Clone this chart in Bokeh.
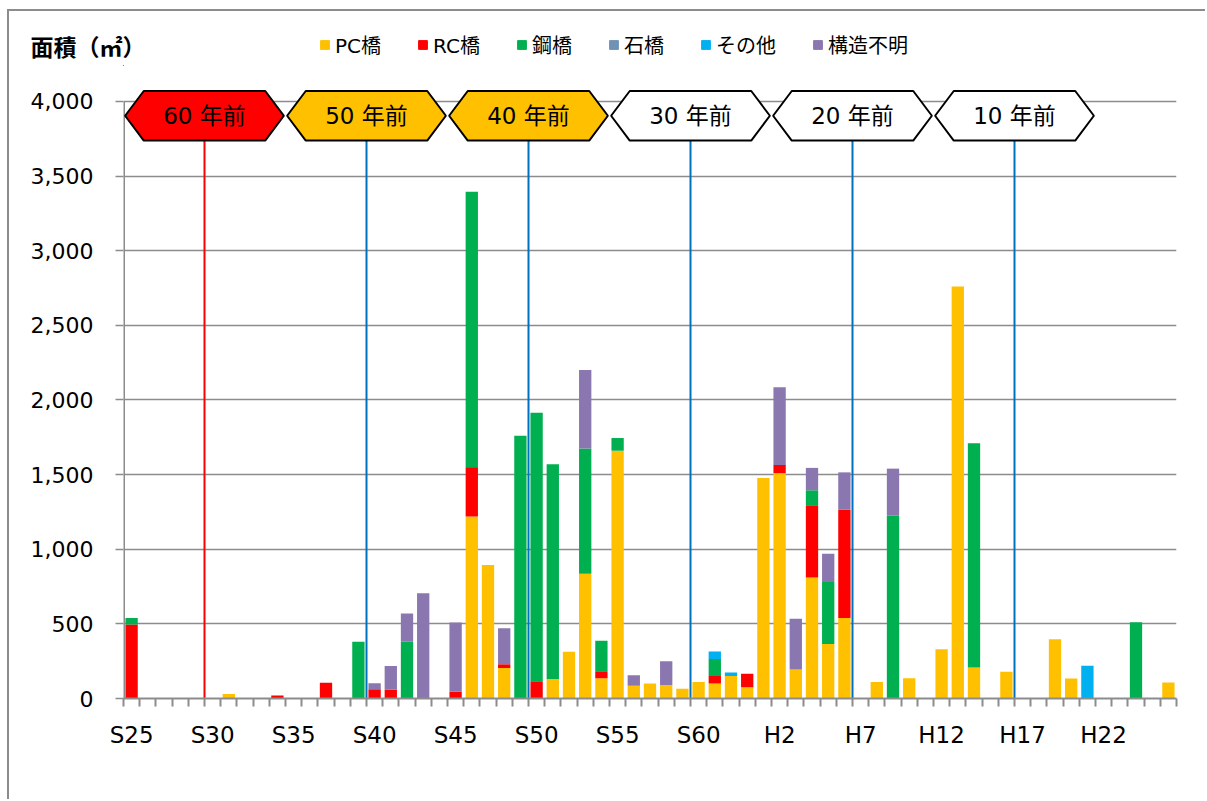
from bokeh.plotting import figure
from bokeh.layouts import column
from bokeh.models import (Range1d, FixedTicker, NumeralTickFormatter, Legend,
                          LegendItem, ColumnDataSource)
from bokeh.core.properties import value
from bokeh.embed import file_html
from bokeh.resources import INLINE

# ---------------- data ----------------
YEARS = ["S25", "S26", "S27", "S28", "S29", "S30", "S31", "S32", "S33", "S34",
         "S35", "S36", "S37", "S38", "S39", "S40", "S41", "S42", "S43", "S44",
         "S45", "S46", "S47", "S48", "S49", "S50", "S51", "S52", "S53", "S54",
         "S55", "S56", "S57", "S58", "S59", "S60", "S61", "S62", "S63", "H1",
         "H2", "H3", "H4", "H5", "H6", "H7", "H8", "H9", "H10", "H11",
         "H12", "H13", "H14", "H15", "H16", "H17", "H18", "H19", "H20", "H21",
         "H22", "H23", "H24", "H25", "H26"]

TICK_LABELS = ["S25", "S30", "S35", "S40", "S45", "S50", "S55", "S60",
               "H2", "H7", "H12", "H17", "H22"]

PC = [0, 0, 0, 0, 0, 0, 30, 0, 0, 0,
      0, 0, 0, 0, 0, 0, 0, 0, 0, 0,
      0, 1220, 895, 205, 0, 0, 130, 313, 835, 135,
      1660, 85, 100, 90, 65, 110, 100, 150, 75, 1478,
      1510, 195, 810, 365, 540, 0, 110, 0, 135, 0,
      330, 2760, 208, 0, 180, 0, 0, 397, 134, 0,
      0, 0, 0, 0, 107]
RC = [495, 0, 0, 0, 0, 0, 0, 0, 0, 20,
      0, 0, 105, 0, 0, 62, 58, 0, 0, 0,
      45, 330, 0, 25, 0, 115, 0, 0, 0, 47,
      0, 0, 0, 0, 0, 0, 50, 0, 90, 0,
      55, 0, 480, 0, 725, 0, 0, 0, 0, 0,
      0, 0, 0, 0, 0, 0, 0, 0, 0, 0,
      0, 0, 0, 0, 0]
STEEL = [45, 0, 0, 0, 0, 0, 0, 0, 0, 0,
         0, 0, 0, 0, 380, 0, 0, 380, 0, 0,
         0, 1845, 0, 0, 1760, 1800, 1440, 0, 840, 205,
         85, 0, 0, 0, 0, 0, 115, 0, 0, 0,
         0, 0, 105, 415, 0, 0, 0, 1225, 0, 0,
         0, 0, 1502, 0, 0, 0, 0, 0, 0, 0,
         0, 0, 511, 0, 0]
STONE = [0] * 65
OTHER = [0, 0, 0, 0, 0, 0, 0, 0, 0, 0,
         0, 0, 0, 0, 0, 0, 0, 0, 0, 0,
         0, 0, 0, 0, 0, 0, 0, 0, 0, 0,
         0, 0, 0, 0, 0, 0, 50, 25, 0, 0,
         0, 0, 0, 0, 0, 0, 0, 0, 0, 0,
         0, 0, 0, 0, 0, 0, 0, 0, 0, 220,
         0, 0, 0, 0, 0]
UNKNOWN = [0, 0, 0, 0, 0, 0, 0, 0, 0, 0,
           0, 0, 0, 0, 0, 40, 160, 190, 705, 0,
           465, 0, 0, 240, 0, 0, 0, 0, 525, 0,
           0, 70, 0, 160, 0, 0, 0, 0, 0, 0,
           520, 340, 150, 190, 250, 0, 0, 315, 0, 0,
           0, 0, 0, 0, 0, 0, 0, 0, 0, 0,
           0, 0, 0, 0, 0]

SERIES_NAMES = ["PC橋", "RC橋", "鋼橋", "石橋", "その他", "構造不明"]
SERIES_COLORS = ["#FFC000", "#FF0000", "#00B050", "#7092B4", "#00B0F0", "#8B77B0"]

MARK_AT = ["S30", "S40", "S50", "S60", "H7", "H17"]
MARK_LABELS = ["60 年前", "50 年前", "40 年前", "30 年前", "20 年前", "10 年前"]
MARK_FILL = ["#FF0000", "#FFC000", "#FFC000", "#FFFFFF", "#FFFFFF", "#FFFFFF"]
MARK_LINE = ["#FF0000", "#0070C0", "#0070C0", "#0070C0", "#0070C0", "#0070C0"]

Y_TICKS = [0, 500, 1000, 1500, 2000, 2500, 3000, 3500, 4000]
UNIT_LABEL = "面積（㎡）"

FONT = "DejaVu Sans, Noto Sans CJK JP"
JP = "Noto Sans CJK JP"
GREY = "#8c8c8c"
W = 1196
HEAD_H = 55
MAIN_H = 733
BL, BR = 114, 29

# ---------------- header (unit label + legend) ----------------
head = figure(width=W, height=HEAD_H, output_backend="svg", toolbar_location=None,
              x_range=Range1d(0, W - BL - BR), y_range=Range1d(0, HEAD_H),
              min_border_left=BL, min_border_right=BR, min_border_top=0,
              min_border_bottom=0, x_axis_location=None, y_axis_location="left")
head.outline_line_color = None
head.grid.visible = False
unit_y = HEAD_H - 34
head.yaxis.ticker = FixedTicker(ticks=[unit_y])
head.yaxis.major_label_overrides = {unit_y: UNIT_LABEL}
head.yaxis.axis_line_color = None
head.yaxis.major_tick_line_color = None
head.yaxis.minor_tick_line_color = None
head.yaxis.major_tick_out = 0
head.yaxis.major_tick_in = 0
head.yaxis.major_label_standoff = -22
head.yaxis.major_label_text_font = JP
head.yaxis.major_label_text_font_style = "bold"
head.yaxis.major_label_text_font_size = "23px"
head.yaxis.major_label_text_color = "black"

dummies = [head.vbar(x=[-1000], top=[1], width=1, color=c) for c in SERIES_COLORS]
legend = Legend(items=[LegendItem(label=n, renderers=[r])
                       for n, r in zip(SERIES_NAMES, dummies)],
                location=(196, 7), orientation="horizontal",
                glyph_width=11, glyph_height=11, label_standoff=5, spacing=36,
                padding=0, margin=0, border_line_color=None,
                background_fill_alpha=0, label_text_font=FONT,
                label_text_font_size="20px", label_text_color="black")
head.add_layout(legend)

# ---------------- main chart ----------------
p = figure(width=W, height=MAIN_H, output_backend="svg", toolbar_location=None,
           x_range=Range1d(-0.5, len(YEARS) - 0.5), y_range=Range1d(0, 4080),
           min_border_left=BL, min_border_right=BR, min_border_top=23,
           min_border_bottom=101)
p.outline_line_color = None
p.background_fill_color = "white"
p.border_fill_color = "white"

yt = FixedTicker(ticks=Y_TICKS)
p.yaxis.ticker = yt
p.ygrid.ticker = yt
p.ygrid.grid_line_color = GREY
p.ygrid.grid_line_width = 1.5
p.xgrid.visible = False
p.yaxis.formatter = NumeralTickFormatter(format="0,0")
p.yaxis.axis_line_color = None
p.yaxis.major_tick_line_color = GREY
p.yaxis.major_tick_line_width = 1.5
p.yaxis.major_tick_out = 8
p.yaxis.major_tick_in = 0
p.yaxis.minor_tick_line_color = None
p.yaxis.major_label_standoff = 22
p.yaxis.major_label_text_font = FONT
p.yaxis.major_label_text_font_size = "22px"
p.yaxis.major_label_text_color = "#000000"

x_major = [YEARS.index(t) for t in TICK_LABELS]
x_minor = [k - 0.5 for k in range(len(YEARS) + 1)]
p.xaxis.ticker = FixedTicker(ticks=x_major, minor_ticks=x_minor)
p.xaxis.major_label_overrides = {YEARS.index(t): t for t in TICK_LABELS}
p.xaxis.axis_line_color = GREY
p.xaxis.axis_line_width = 2
p.xaxis.major_tick_out = 0
p.xaxis.major_tick_in = 0
p.xaxis.minor_tick_out = 8
p.xaxis.minor_tick_in = 0
p.xaxis.minor_tick_line_color = GREY
p.xaxis.minor_tick_line_width = 2
p.xaxis.major_label_standoff = 15
p.xaxis.major_label_text_font = FONT
p.xaxis.major_label_text_font_size = "23px"
p.xaxis.major_label_text_color = "#000000"

# y axis line (only up to the top tick)
p.segment(x0=[-0.5], y0=[0], x1=[-0.5], y1=[Y_TICKS[-1]], line_color=GREY, line_width=3)

keys = ["pc", "rc", "steel", "stone", "other", "unknown"]
src = ColumnDataSource(dict(x=list(range(len(YEARS))), pc=PC, rc=RC, steel=STEEL,
                            stone=STONE, other=OTHER, unknown=UNKNOWN))
p.vbar_stack(keys, x="x", width=0.76, color=SERIES_COLORS, line_color=None, source=src)

# era marker lines and hexagon tags
mx = [YEARS.index(t) - 0.5 for t in MARK_AT]
hex_top, hex_bot = 4070, 3738
hex_mid = (hex_top + hex_bot) / 2
p.segment(x0=mx, y0=[0] * len(mx), x1=mx, y1=[hex_bot] * len(mx),
          line_color=MARK_LINE, line_width=2)
hw, ind = 4.9, 1.15
xs = [[c - hw, c - hw + ind, c + hw - ind, c + hw, c + hw - ind, c - hw + ind] for c in mx]
ys = [[hex_mid, hex_top, hex_top, hex_mid, hex_bot, hex_bot] for _ in mx]
p.patches(xs, ys, fill_color=MARK_FILL, line_color="black", line_width=2)
p.text(x=mx, y=[hex_mid] * len(mx), text=MARK_LABELS, text_align="center",
       text_baseline="middle", text_font=value(FONT), text_font_size="23px",
       text_color="black")

layout = column(head, p, spacing=0)
layout.styles = {"margin-left": "7px", "margin-top": "9px",
                 "border-left": "2px solid #8c8c8c", "border-top": "2px solid #8c8c8c"}

open("out.html", "w", encoding="utf-8").write(file_html(layout, INLINE))
